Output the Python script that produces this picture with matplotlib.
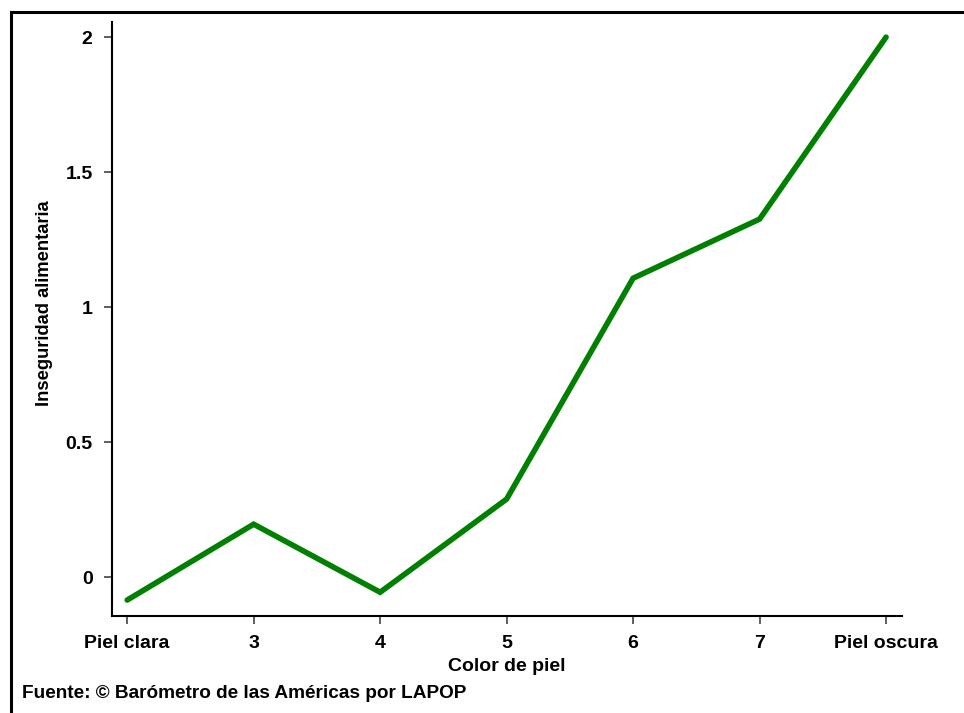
import matplotlib
matplotlib.use("Agg")
from matplotlib import pyplot as plt
from matplotlib.lines import Line2D

# datos
color_piel = [2, 3, 4, 5, 6, 7, 8]
inseguridad = [-0.085, 0.196, -0.056, 0.289, 1.107, 1.326, 2.0]
x_labels = ['Piel clara', '3', '4', '5', '6', '7', 'Piel oscura']
y_ticks = [0, 0.5, 1, 1.5, 2]
y_labels = ['0', '0.5', '1', '1.5', '2']

plt.rcParams['font.family'] = ['Liberation Sans', 'DejaVu Sans']
plt.rcParams['font.weight'] = 'bold'

W, H = 964, 713
fs = 14
fig = plt.figure(figsize=(W/100, H/100), dpi=100)
ax = fig.add_axes([112/W, 1-616/H, (902-112)/W, (616-22)/H])

ax.plot(color_piel, inseguridad, color='#008000', linewidth=4, solid_capstyle='round', solid_joinstyle='miter')
ax.set_xlim(1.88, 8.126)
ax.set_ylim(-0.144, 2.056)

ax.set_xticks(color_piel)
ax.set_xticklabels(x_labels, fontsize=fs, fontweight='bold')
ax.set_yticks(y_ticks)
ax.set_yticklabels(y_labels, fontsize=fs, fontweight='bold')
ax.tick_params(length=6, width=1.2, color='#444444')
ax.tick_params(axis='x', pad=8)
ax.tick_params(axis='y', pad=8)

for s in ['top', 'right']:
    ax.spines[s].set_visible(False)
for s in ['left', 'bottom']:
    ax.spines[s].set_linewidth(1.5)

ax.set_xlabel('Color de piel', fontsize=fs, fontweight='bold')
ax.xaxis.set_label_coords(0.5, -(658-616)/(616-22))
ax.set_ylabel('Inseguridad alimentaria', fontsize=13.2, fontweight='bold')
ax.yaxis.set_label_coords(-(112-53)/(902-112), (616-303)/(616-22))

fig.text(22/W, 1-693/H, 'Fuente: © Barómetro de las Américas por LAPOP', fontsize=13.7, fontweight='bold', va='center', ha='left')

# marco exterior
fig.add_artist(Line2D([11/W, 11/W], [0, 1-12/H], color='black', linewidth=2.2, transform=fig.transFigure))
fig.add_artist(Line2D([11/W, 1], [1-12/H, 1-12/H], color='black', linewidth=2.2, transform=fig.transFigure))

plt.savefig('out.png', dpi=100)
